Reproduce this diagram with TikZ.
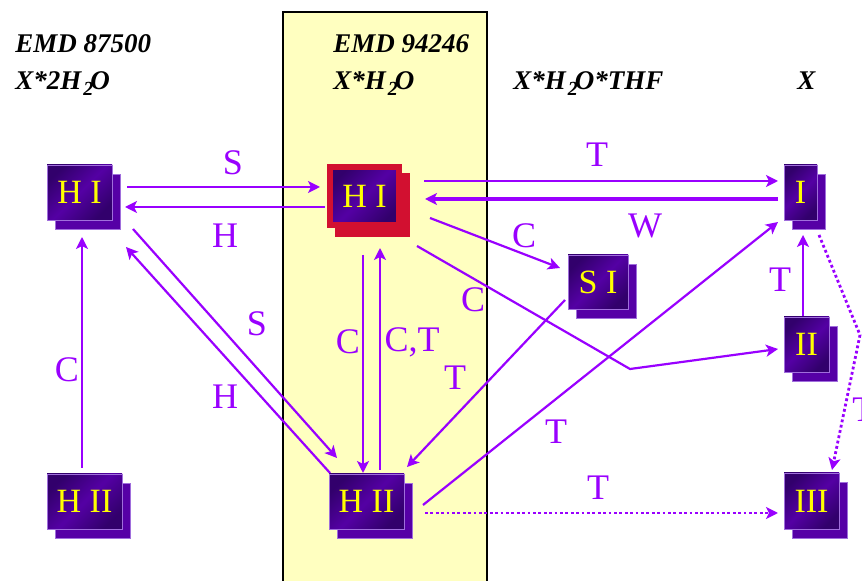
\documentclass[tikz,border=0pt]{standalone}
\usepackage{fontspec}
\setmainfont{Liberation Serif}
\usetikzlibrary{arrows.meta,shadows}
\definecolor{arrviolet}{RGB}{153,0,255}
\definecolor{bandyellow}{RGB}{255,255,192}
\definecolor{boxdark}{RGB}{50,0,108}
\definecolor{boxmid}{RGB}{84,0,164}
\definecolor{boxback}{RGB}{86,0,166}
\definecolor{boxedge}{RGB}{160,110,220}
\definecolor{hired}{RGB}{210,16,48}
\definecolor{txtyellow}{RGB}{255,255,0}
\newcommand{\subtwo}{\kern1pt\raisebox{-3pt}{\fontsize{10}{10}\selectfont 2}\kern-1.5pt}
\tikzset{
	stackbase/.style={rectangle,inner sep=0pt,outer sep=0pt,
		top color=boxdark,bottom color=boxdark,middle color=boxmid,shading angle=45,
		text=txtyellow,font=\fontsize{17}{20}\selectfont},
	stack/.style={stackbase,draw=boxedge,line width=0.4pt,
		copy shadow={shadow xshift=4pt,shadow yshift=-4.5pt,fill=boxback,draw=boxedge}},
	hotstack/.style={stackbase,draw=hired,line width=3pt,
		copy shadow={shadow xshift=4pt,shadow yshift=-4.5pt,fill=hired,draw=hired}},
	diredge/.style={-{Stealth[length=6pt,width=6pt,inset=1.5pt]},color=arrviolet,line width=1.1pt},
	heavyedge/.style={diredge,line width=2pt},
	dotedge/.style={diredge,line width=1.4pt,dash pattern=on 1.4pt off 1.3pt},
	elabel/.style={text=arrviolet,font=\fontsize{18}{21}\selectfont,inner sep=0pt},
	head/.style={anchor=base west,inner sep=0pt,font=\fontsize{13.5}{16}\selectfont\bfseries\itshape}
}

\begin{document}
\begin{tikzpicture}[x=0.5pt,y=-0.5pt]
\useasboundingbox (0,0) rectangle (862,581);
\draw[fill=bandyellow,draw=black,line width=0.6pt] (283,12) rectangle (487,600);

%%%% headers
\node[head] (hdA) at (15,53) {EMD 87500};
\node[head] (hdAf) at (15,90) {X*2H\subtwo O};
\node[head] (hdB) at (333,53) {EMD 94246};
\node[head] (hdBf) at (333,90) {X*H\subtwo O};
\node[head] (hdCf) at (513,90) {X*H\subtwo O*THF};
\node[head] (hdDf) at (797,90) {X};

%%%% boxes
\node[stack,minimum width=32.5pt,minimum height=27.5pt] (hiL) at (79.5,192.5) {H I};
\node[stack,minimum width=37.5pt,minimum height=27.5pt] (hiiL) at (84.5,501.5) {H II};
\node[hotstack,minimum width=34.5pt,minimum height=29pt] (hiC) at (364.5,196) {H I};
\node[stack,minimum width=37.5pt,minimum height=27.5pt] (hiiC) at (366.5,501.5) {H II};
\node[stack,minimum width=30pt,minimum height=27pt] (siN) at (598,282) {S I};
\node[stack,minimum width=16.5pt,minimum height=27.5pt] (iR) at (800.5,192.5) {I};
\node[stack,minimum width=22.5pt,minimum height=27.5pt] (iiR) at (806.5,344.5) {II};
\node[stack,minimum width=27.5pt,minimum height=28pt] (iiiR) at (811.5,501) {III};

\coordinate (bendC) at (630,369);
\coordinate (bendR) at (860,335);

%%%% left <-> centre
\draw[diredge] ([shift={(15,-5.5)}]hiL.east) -- ([shift={(-10,-9)}]hiC.west);
\draw[diredge] ([shift={(-5,11)}]hiC.west) -- ([shift={(13,14.5)}]hiL.east);
\draw[diredge] ([shift={(21,9)}]hiL.south east) -- ([shift={(8,-16)}]hiiC.north west);
\draw[diredge] ([shift={(1,-1)}]hiiC.north west) -- ([shift={(14,27)}]hiL.south east);
\draw[diredge] ([shift={(-2.5,-6)}]hiiL.north) -- ([shift={(2.5,17)}]hiL.south);

%%%% centre column
\draw[diredge] ([shift={(-1.5,30)}]hiC.south) -- ([shift={(-3.5,-1)}]hiiC.north);
\draw[diredge] ([shift={(13.5,-4)}]hiiC.north) -- ([shift={(15.5,23)}]hiC.south);

%%%% centre -> right
\draw[diredge] ([shift={(25,-15)}]hiC.east) -- ([shift={(-6,-11.5)}]iR.west);
\draw[heavyedge] ([shift={(-6,6.5)}]iR.west) -- ([shift={(26,3)}]hiC.east);
\draw[diredge] ([shift={(31,22)}]hiC.east) -- ([shift={(-8,-14)}]siN.west);
\draw[diredge] ([shift={(18,21)}]hiC.south east) -- (bendC) -- ([shift={(-6,4.5)}]iiR.west);
\draw[diredge] ([shift={(-3,-9)}]siN.south west) -- ([shift={(3,-7)}]hiiC.north east);
\draw[diredge] ([shift={(19,3.5)}]hiiC.east) -- ([shift={(-6,2)}]iR.south west);
\draw[dotedge] ([shift={(21,11.5)}]hiiC.east) -- ([shift={(-6,12)}]iiiR.west);

%%%% right column
\draw[diredge] ([shift={(-3.5,-1)}]iiR.north) -- ([shift={(2.5,15)}]iR.south);
\draw[dotedge] ([shift={(2,15)}]iR.south east) -- (bendR) -- ([shift={(20.5,-3)}]iiiR.north);

%%%% labels
\node[elabel] (lS1) at (233,163) {S};
\node[elabel] (lH1) at (225,236) {H};
\node[elabel] (lS2) at (257,324) {S};
\node[elabel] (lH2) at (225,397) {H};
\node[elabel] (lC1) at (67,370) {C};
\node[elabel] (lC2) at (348,342) {C};
\node[elabel] (lCT) at (412,342) {C,T};
\node[elabel] (lT1) at (597,155) {T};
\node[elabel] (lW) at (645,226) {W};
\node[elabel] (lC3) at (524,236) {C};
\node[elabel] (lC4) at (473,300) {C};
\node[elabel] (lT2) at (455,378) {T};
\node[elabel] (lT3) at (556,432) {T};
\node[elabel] (lT4) at (598,488) {T};
\node[elabel] (lT5) at (780,280) {T};
\node[elabel,anchor=west] (lT6) at (852,410) {T};
\end{tikzpicture}
\end{document}
